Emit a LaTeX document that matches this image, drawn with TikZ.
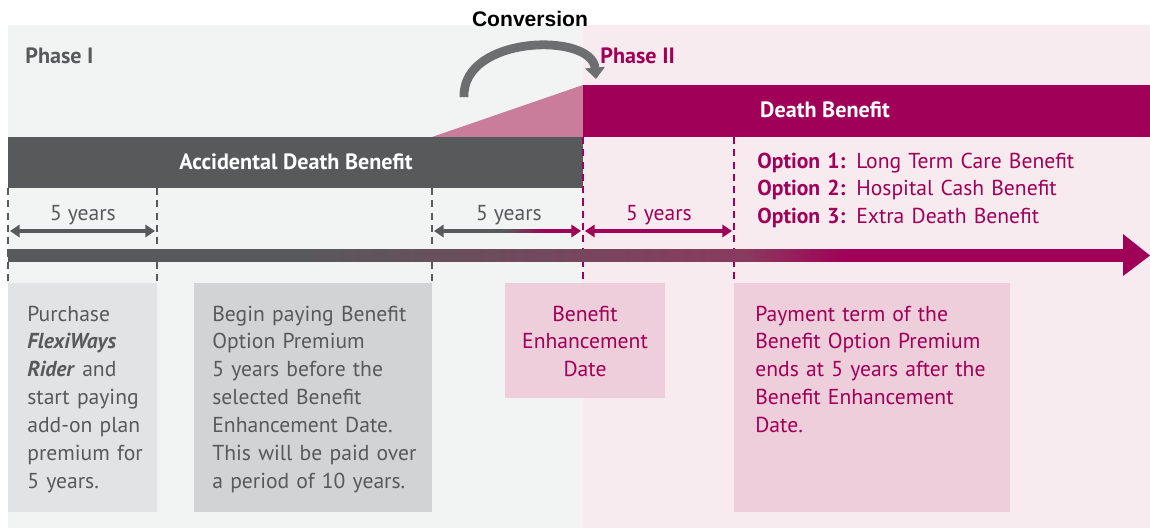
\documentclass[tikz,border=0pt]{standalone}
\usepackage{fontspec}
\setmainfont{PT Sans}
\newfontfamily\arialfont{Liberation Sans}
\usetikzlibrary{arrows.meta,calc,positioning}

\definecolor{rubine}{RGB}{160,0,87}
\definecolor{slate}{RGB}{88,89,91}
\definecolor{mauve}{RGB}{138,58,94}
\definecolor{blush}{RGB}{201,125,155}
\definecolor{arcgray}{RGB}{109,110,112}
\definecolor{phaseIbg}{RGB}{242,243,243}
\definecolor{phaseIIbg}{RGB}{247,235,239}
\definecolor{boxgrayA}{RGB}{226,227,228}
\definecolor{boxgrayB}{RGB}{210,211,213}
\definecolor{boxpink}{RGB}{237,206,218}

\newcommand{\bodysize}{\fontsize{12.3}{15.9}\selectfont}
\newcommand{\headsize}{\fontsize{12.6}{15.9}\selectfont}

\begin{document}
\begin{tikzpicture}[x=0.02cm, y=-0.02cm,
	txt/.style={inner sep=0pt, font=\bodysize},
	head/.style={inner sep=0pt, font=\headsize\bfseries},
	tick/.style={dash pattern=on 4pt off 3pt, line width=1.1pt},
	span/.style={line width=2.2pt, {Triangle[length=5.5pt,width=7pt]}-{Triangle[length=5.5pt,width=7pt]}}]
	\useasboundingbox (0,0) rectangle (1150,528);

	% Phase backgrounds
	\fill[phaseIbg] (8,25) rectangle (583,528);
	\fill[phaseIIbg] (583,25) rectangle (1150,528);

	\node[anchor=base, inner sep=0pt, font=\arialfont\bfseries\fontsize{12}{14}\selectfont] (conv) at (530,26) {Conversion};
	\node[head, anchor=base west, text=slate] (phaseI) at (25,63) {Phase I};
	\node[head, anchor=base west, text=rubine] (phaseII) at (600,63) {Phase II};

	% Conversion arrow
	\draw[arcgray, line width=5pt, -{Triangle[length=6.5pt,width=11pt]}] (464,97) .. controls (462,35) and (592,32) .. (596,79);

	% Benefit bars
	\fill[blush] (432,137) -- (583,85) -- (583,137) -- cycle;
	\fill[rubine] (583,85) rectangle (1150,137);
	\node[head, anchor=base, text=white] (db) at (825,117) {Death Benefit};
	\fill[slate] (8,137) rectangle (583,188);
	\node[head, anchor=base, text=white] (adb) at (296,169) {Accidental Death Benefit};

	% Dashed year marks
	\draw[tick, slate] (8,188) -- (8,283);
	\draw[tick, slate] (157,188) -- (157,283);
	\draw[tick, slate] (432,188) -- (432,283);
	\draw[tick, rubine] (583,137) -- (583,283);
	\draw[tick, rubine] (734,137) -- (734,283);

	% Five year spans
	\coordinate (a0) at (10,231);
	\coordinate (a1) at (155,231);
	\coordinate (b0) at (434,231);
	\coordinate (b1) at (505,231);
	\coordinate (b2) at (545,231);
	\coordinate (b3) at (581,231);
	\coordinate (c0) at (585,231);
	\coordinate (c1) at (732,231);
	\draw[span, slate] (a0) -- (a1);
	\draw[slate, line width=2.2pt, {Triangle[length=5.5pt,width=7pt]}-] (b0) -- (b1);
	\foreach \i [evaluate=\i as \p using int(5*\i)] in {0,...,20}
		\fill[rubine!\p!slate] ({505+2*\i},229) rectangle ({507.5+2*\i},233);
	\draw[rubine, line width=2.2pt, -{Triangle[length=5.5pt,width=7pt]}] (b2) -- (b3);
	\draw[span, rubine] (c0) -- (c1);
	\node[txt, anchor=base, text=slate] (yrs1) at (83,220) {5 years};
	\node[txt, anchor=base, text=slate] (yrs2) at (509,220) {5 years};
	\node[txt, anchor=base, text=rubine] (yrs3) at (659,220) {5 years};

	% Timeline, gray fading through mauve into rubine
	\fill[slate] (8,249) rectangle (301,262);
	\foreach \i [evaluate=\i as \p using int(100*\i/89)] in {0,...,89}
		\fill[mauve!\p!slate] ({300+5*\i},249) rectangle ({306+5*\i},262);
	\foreach \i [evaluate=\i as \p using int(100*\i/20)] in {0,...,20}
		\fill[rubine!\p!mauve] ({745+5*\i},249) rectangle ({751+5*\i},262);
	\fill[rubine] (848,249) rectangle (1124,262);
	\fill[rubine] (1123,234) -- (1150,255.5) -- (1123,276) -- cycle;

	% Options
	\node[txt, anchor=base west, text=rubine, align=left, text width=7cm] (options) at (757,168)
		{\textbf{Option 1:} Long Term Care Benefit\\
		 \textbf{Option 2:} Hospital Cash Benefit\\
		 \textbf{Option 3:} Extra Death Benefit};

	% Description boxes
	\fill[boxgrayA] (8,283) rectangle (157,512);
	\fill[boxgrayB] (194,283) rectangle (432,512);
	\fill[boxpink] (505,283) rectangle (665,398);
	\fill[boxpink] (734,283) rectangle (1010,512);

	\node[txt, anchor=base west, text=slate, align=left, text width=2.6cm] (purchase) at (27,321)
		{Purchase\\ \textbf{\textit{FlexiWays}}\\ \textbf{\textit{Rider}} and\\ start paying\\ add-on plan\\ premium for\\ 5 years.};
	\node[txt, anchor=base west, text=slate, align=left, text width=4.3cm] (begin) at (212,321)
		{Begin paying Benefit\\ Option Premium\\ 5 years before the\\ selected Benefit\\ Enhancement Date.\\ This will be paid over\\ a period of 10 years.};
	\node[txt, anchor=base, text=rubine, align=center, text width=3.2cm] (bed) at (585,321)
		{Benefit\\ Enhancement\\ Date};
	\node[txt, anchor=base west, text=rubine, align=left, text width=5cm] (payterm) at (755,321)
		{Payment term of the\\ Benefit Option Premium\\ ends at 5 years after the\\ Benefit Enhancement\\ Date.};
\end{tikzpicture}
\end{document}
